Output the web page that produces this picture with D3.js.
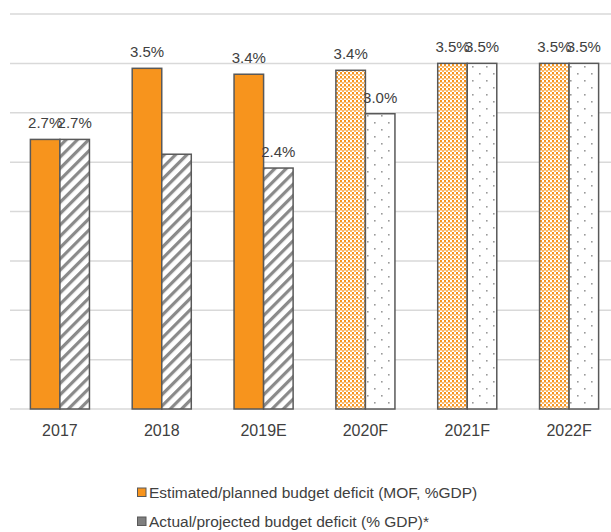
<!DOCTYPE html>
<html><head><meta charset="utf-8">
<script src="https://cdn.jsdelivr.net/npm/d3@7"></script>
<style>body{margin:0;background:#fff}svg{display:block}text{font-family:"Liberation Sans",Arial,sans-serif}</style>
</head><body><svg id="c" width="611" height="532"></svg>
<script>
const categories = ["2017","2018","2019E","2020F","2021F","2022F"];
const estimated = [2.73, 3.45, 3.39, 3.43, 3.5, 3.5];
const actual = [2.73, 2.58, 2.44, 2.99, 3.5, 3.5];
const estimatedLabels = ["2.7%","3.5%","3.4%","3.4%","3.5%","3.5%"];
const actualLabels = ["2.7%","","2.4%","3.0%","3.5%","3.5%"];
const forecast = [false,false,false,true,true,true];
const yTicks = [0,0.5,1,1.5,2,2.5,3,3.5,4];
const seriesNames = ["Estimated/planned budget deficit (MOF, %GDP)","Actual/projected budget deficit (% GDP)*"];

const svg = d3.select("#c");
const defs = svg.append("defs");
const ps = defs.append("pattern").attr("id","stripes").attr("patternUnits","userSpaceOnUse")
  .attr("width",8).attr("height",8).attr("patternTransform","rotate(45)");
ps.append("rect").attr("width",8).attr("height",8).attr("fill","#fff");
ps.append("rect").attr("x",0).attr("width",3.2).attr("height",8).attr("fill","#8a8a8a");
const po = defs.append("pattern").attr("id","odots").attr("patternUnits","userSpaceOnUse").attr("width",4).attr("height",4);
po.append("rect").attr("width",4).attr("height",4).attr("fill","#fff");
po.append("rect").attr("x",0).attr("y",0).attr("width",2).attr("height",2).attr("fill","#F7941D");
po.append("rect").attr("x",2).attr("y",2).attr("width",2).attr("height",2).attr("fill","#F9B766");
po.append("rect").attr("x",0).attr("y",2).attr("width",2).attr("height",1).attr("fill","#FBD2A0");
const pg = defs.append("pattern").attr("id","gdots").attr("patternUnits","userSpaceOnUse").attr("width",14).attr("height",14);
pg.append("rect").attr("width",14).attr("height",14).attr("fill","#fff");
pg.append("rect").attr("x",3).attr("y",3).attr("width",1.6).attr("height",1.6).attr("fill","#9a9a9a");
pg.append("rect").attr("x",10).attr("y",10).attr("width",1.6).attr("height",1.6).attr("fill","#9a9a9a");

const x0 = d3.scaleBand().domain(categories).range([9,620]).paddingInner(0.42).paddingOuter(0.21);
const x1 = d3.scaleBand().domain([0,1]).range([0,x0.bandwidth()]);
const y = d3.scaleLinear().domain([0,4]).range([409,14]);

svg.append("g").selectAll("line").data(yTicks).join("line")
  .attr("x1",10).attr("x2",611).attr("y1",d=>y(d)).attr("y2",d=>y(d))
  .attr("stroke","#d9d9d9").attr("stroke-width",1.5);

const g = svg.append("g");
categories.forEach((c,i)=>{
  const vals = [estimated[i], actual[i]];
  vals.forEach((v,s)=>{
    let fill;
    if (s===0) fill = forecast[i] ? "url(#odots)" : "#F7941D";
    else fill = forecast[i] ? "url(#gdots)" : "url(#stripes)";
    g.append("rect").attr("x",x0(c)+x1(s)).attr("y",y(v)).attr("width",x1.bandwidth()).attr("height",y(0)-y(v))
      .attr("fill",fill).attr("stroke","#595959").attr("stroke-width",1.5);
  });
});
const lg = svg.append("g");
categories.forEach((c,i)=>{
  [[estimated[i],estimatedLabels[i]],[actual[i],actualLabels[i]]].forEach(([v,l],s)=>{
    if(!l) return;
    lg.append("text").attr("x",x0(c)+x1(s)+x1.bandwidth()/2).attr("y",y(v)-11)
      .attr("text-anchor","middle").attr("font-size",15).attr("fill","#404040").text(l);
  });
});
svg.append("g").selectAll("text").data(categories).join("text")
  .attr("x",d=>x0(d)+x0.bandwidth()/2).attr("y",436).attr("text-anchor","middle")
  .attr("font-size",16).attr("fill","#404040").text(d=>d);

const leg = svg.append("g");
const legFills = ["#F7941D","#7f7f7f"];
seriesNames.forEach((n,i)=>{
  const yy = 498 + i*29;
  leg.append("rect").attr("x",137.5).attr("y",yy-10).attr("width",8.5).attr("height",8.5)
    .attr("fill",legFills[i]).attr("stroke","#595959").attr("stroke-width",1);
  leg.append("text").attr("x",149).attr("y",yy).attr("font-size",15.5).attr("fill","#404040").text(n);
});
</script></body></html>
